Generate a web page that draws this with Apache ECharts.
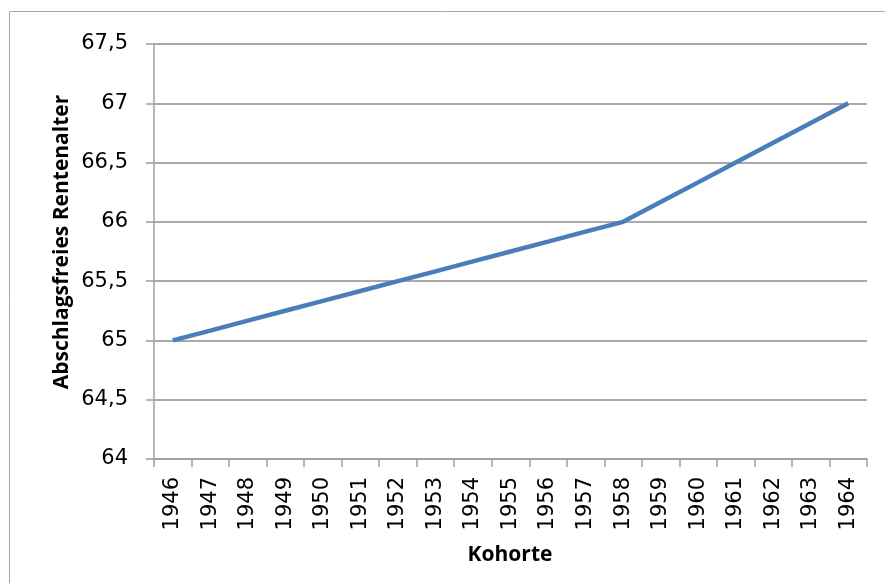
<!DOCTYPE html>
<html><head><meta charset="utf-8">
<script src="https://cdn.jsdelivr.net/npm/echarts@6/dist/echarts.min.js"></script>
<style>html,body{margin:0;padding:0;background:#fff}#c{width:885px;height:583px}</style>
</head><body><div id="c"></div>
<script>
const categories = ['1946','1947','1948','1949','1950','1951','1952','1953','1954','1955','1956','1957','1958','1959','1960','1961','1962','1963','1964'];
const values = [65, 65.083, 65.167, 65.25, 65.333, 65.417, 65.5, 65.583, 65.667, 65.75, 65.833, 65.917, 66, 66.167, 66.333, 66.5, 66.667, 66.833, 67];
const yTicks = [64, 64.5, 65, 65.5, 66, 66.5, 67, 67.5];
const xTitle = 'Kohorte';
const yTitle = 'Abschlagsfreies Rentenalter';

const titleFont = '"Open Sans", "Noto Sans", sans-serif';
const tickFont = '"DejaVu Sans", sans-serif';
const chart = echarts.init(document.getElementById('c'), null, {renderer: 'canvas'});
chart.setOption({
  animation: false,
  grid: {left: 154, right: 18, top: 44, bottom: 124, containLabel: false},
  graphic: [
    {type: 'rect', shape: {x: 9.5, y: 11.5, width: 900, height: 600}, style: {fill: 'none', stroke: '#a6a6a6', lineWidth: 1}, z: -1},
    {type: 'text', x: 510, y: 555, style: {text: xTitle, font: 'bold 21px ' + titleFont, fill: '#000', textAlign: 'center', textVerticalAlign: 'middle'}},
    {type: 'text', x: 62, y: 242, rotation: Math.PI / 2, style: {text: yTitle, font: 'bold 21px ' + titleFont, fill: '#000', textAlign: 'center', textVerticalAlign: 'middle'}}
  ],
  xAxis: {
    type: 'category', data: categories, boundaryGap: true,
    axisLine: {lineStyle: {color: '#a0a0a0', width: 1.5}},
    axisTick: {show: true, length: 8, interval: 0, alignWithLabel: false, lineStyle: {color: '#a0a0a0', width: 1.5}},
    axisLabel: {rotate: 90, interval: 0, margin: 18, color: '#000', fontSize: 21, fontFamily: tickFont},
    splitLine: {show: false}
  },
  yAxis: {
    type: 'value', min: 64, max: 67.5, interval: 0.5,
    axisLine: {show: true, lineStyle: {color: '#a0a0a0', width: 1.5}},
    axisTick: {show: true, length: 8, inside: false, lineStyle: {color: '#a0a0a0', width: 1.5}},
    axisLabel: {margin: 26, color: '#000', fontSize: 21, fontFamily: tickFont,
      formatter: v => { const t = yTicks.find(x => Math.abs(x - v) < 1e-6); return String(t !== undefined ? t : v).replace('.', ','); }},
    splitLine: {show: true, lineStyle: {color: '#8c8c8c', width: 1.5}}
  },
  series: [{
    type: 'line', data: values, showSymbol: false, symbol: 'none',
    lineStyle: {color: '#4a7ebb', width: 4.5}, itemStyle: {color: '#4a7ebb'}
  }]
});
</script></body></html>
